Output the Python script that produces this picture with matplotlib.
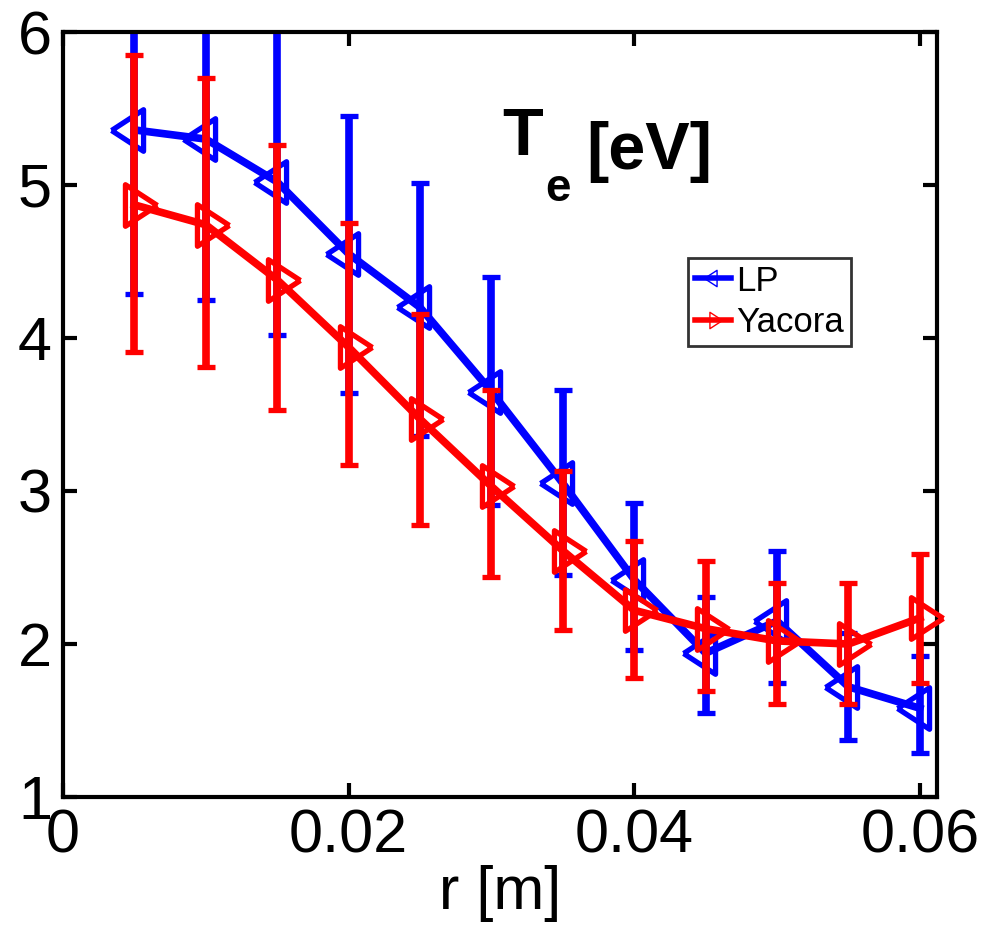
import matplotlib
matplotlib.use("Agg")
import matplotlib.pyplot as plt
from matplotlib.lines import Line2D

plt.rcParams['font.family'] = ['Liberation Sans', 'DejaVu Sans']

r = [0.005, 0.010, 0.015, 0.020, 0.025, 0.030, 0.035, 0.040, 0.045, 0.050, 0.055, 0.060]

lp_te = [5.36, 5.30, 5.02, 4.55, 4.20, 3.65, 3.05, 2.42, 1.94, 2.15, 1.72, 1.58]
lp_up = [6.43, 6.35, 6.05, 5.45, 5.01, 4.40, 3.66, 2.92, 2.31, 2.61, 2.07, 1.92]
lp_lo = [4.29, 4.25, 4.02, 3.64, 3.36, 2.91, 2.45, 1.96, 1.55, 1.745, 1.37, 1.29]

ya_te = [4.87, 4.74, 4.38, 3.94, 3.47, 3.03, 2.61, 2.22, 2.10, 2.02, 2.00, 2.17]
ya_up = [5.85, 5.70, 5.26, 4.75, 4.16, 3.66, 3.13, 2.67, 2.54, 2.40, 2.40, 2.59]
ya_lo = [3.91, 3.81, 3.53, 3.17, 2.78, 2.44, 2.09, 1.78, 1.69, 1.61, 1.61, 1.745]

xticks = [0, 0.02, 0.04, 0.06]
xticklabels = ['0', '0.02', '0.04', '0.06']
yticks = [1, 2, 3, 4, 5, 6]

fig = plt.figure(figsize=(9.97, 9.33), dpi=100)
ax = fig.add_axes([0.0632, 0.1458, 0.8766, 0.8199])

def err(c, up, lo):
    return [[ci - l for ci, l in zip(c, lo)], [u - ci for ci, u in zip(c, up)]]

blue = '#0000ff'
red = '#ff0000'

# MATLAB-like triangles (tip off-centre, taller than wide)
tri_left = [(-21.5, 0), (8.5, 19.5), (8.5, -19.5), (-21.5, 0)]
tri_right = [(21.5, 0), (-8.5, 19.5), (-8.5, -19.5), (21.5, 0)]

ax.errorbar(r, lp_te, yerr=err(lp_te, lp_up, lp_lo), color=blue, lw=5.5,
            elinewidth=5.5, capsize=6.5, capthick=5, marker=tri_left, ms=33,
            mfc='none', mec=blue, mew=3.8, zorder=2, clip_on=True)
ax.errorbar(r, ya_te, yerr=err(ya_te, ya_up, ya_lo), color=red, lw=5.5,
            elinewidth=5.5, capsize=6.5, capthick=5, marker=tri_right, ms=33,
            mfc='none', mec=red, mew=3.8, zorder=3, clip_on=False)

ax.set_xlim(0, 0.0612)
ax.set_ylim(1, 6)
ax.set_xticks(xticks)
ax.set_xticklabels(xticklabels)
ax.set_yticks(yticks)
ax.tick_params(direction='in', length=10, width=3, top=True, right=True,
               labelsize=44, pad=8)
for s in ax.spines.values():
    s.set_linewidth(3)

ax.set_xlabel('r [m]', fontsize=44, labelpad=0)

# Title: "T" with lowered subscript "e", then "[eV]"
tT = ax.text(0.03075, 5.196, 'T', fontsize=48, fontweight='bold',
             ha='left', va='baseline')
ax.annotate('e', xy=(1, 0), xycoords=tT, xytext=(2, -23),
            textcoords='offset points', fontsize=33, fontweight='bold',
            ha='left', va='baseline')
ax.annotate('[eV]', xy=(1, 0), xycoords=tT, xytext=(31, 0),
            textcoords='offset points', fontsize=48, fontweight='bold',
            ha='left', va='baseline')

handles = [Line2D([], [], color=blue, lw=4, marker=tri_left, ms=13, mfc='none', mew=1),
           Line2D([], [], color=red, lw=4, marker=tri_right, ms=13, mfc='none', mew=1)]
leg = ax.legend(handles, ['LP', 'Yacora'], loc='upper left',
                bbox_to_anchor=(0.715, 0.705), fontsize=25, frameon=True,
                fancybox=False, handlelength=1.05, handletextpad=0.15,
                borderpad=0.2, labelspacing=0.25, borderaxespad=0)
leg.get_frame().set_edgecolor('black')
leg.get_frame().set_linewidth(2)

fig.savefig('out.png', dpi=100)
